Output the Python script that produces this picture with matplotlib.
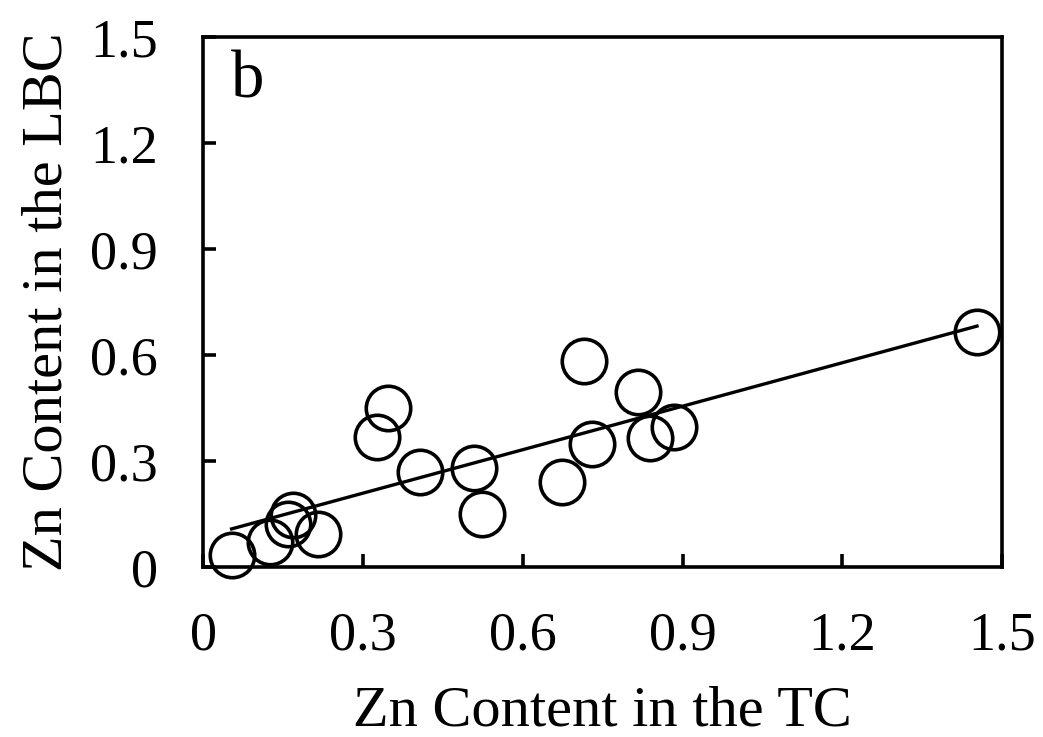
import numpy as np
import matplotlib
matplotlib.use("Agg")
import matplotlib.pyplot as plt

plt.rcParams["font.family"] = ["Liberation Serif", "DejaVu Serif"]

# --- data --------------------------------------------------------------
zn_tc = [0.053, 0.126, 0.168, 0.158, 0.216, 0.327, 0.347, 0.407, 0.509,
         0.524, 0.673, 0.715, 0.730, 0.817, 0.839, 0.884, 1.453]
zn_lbc = [0.035, 0.072, 0.148, 0.122, 0.092, 0.368, 0.449, 0.269, 0.279,
          0.151, 0.241, 0.583, 0.349, 0.496, 0.364, 0.397, 0.666]

# linear trend drawn in the figure
fit_slope = 0.41
fit_intercept = 0.086

ticks = [0, 0.3, 0.6, 0.9, 1.2, 1.5]
tick_labels = ["0", "0.3", "0.6", "0.9", "1.2", "1.5"]

# --- plot ----------------------------------------------------------------
fig = plt.figure(figsize=(10.43, 7.37), dpi=100)
ax = fig.add_axes([0.195, 0.2307, 0.7657, 0.7191])

ax.plot(zn_tc, zn_lbc, linestyle="none", marker="o", markersize=32,
        markerfacecolor="none", markeredgecolor="black", markeredgewidth=2.6,
        clip_on=False, zorder=3)

x_line = np.array([min(zn_tc), max(zn_tc)])
ax.plot(x_line, fit_slope * x_line + fit_intercept, color="black", lw=2.4, zorder=2)

ax.set_xlim(0, 1.5)
ax.set_ylim(0, 1.5)
ax.set_xticks(ticks)
ax.set_xticklabels(tick_labels)
ax.set_yticks(ticks)
ax.set_yticklabels(tick_labels)

for s in ax.spines.values():
    s.set_linewidth(2.6)
ax.tick_params(direction="in", length=9.5, width=2.6, labelsize=39,
               top=False, right=False)
ax.tick_params(axis="x", pad=32)
ax.tick_params(axis="y", pad=33)

ax.set_xlabel("Zn Content in the TC", fontsize=42, labelpad=17)
ax.set_ylabel("Zn Content in the LBC", fontsize=42, labelpad=12)

ax.text(0.035, 0.975, "b", transform=ax.transAxes, fontsize=48, va="top", ha="left")

fig.savefig("out.png", dpi=100)
